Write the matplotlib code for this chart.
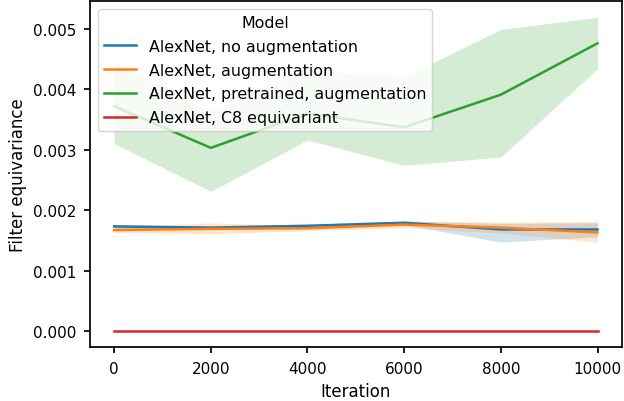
import matplotlib
matplotlib.use('Agg')
import matplotlib.pyplot as plt
import numpy as np

# Data
iterations = [0, 2000, 4000, 6000, 8000, 10000]

models = ['AlexNet, no augmentation', 'AlexNet, augmentation',
          'AlexNet, pretrained, augmentation', 'AlexNet, C8 equivariant']

mean_noaug = [0.00173, 0.00171, 0.00174, 0.00179, 0.00168, 0.00168]
low_noaug = [0.00170, 0.00168, 0.00171, 0.00176, 0.00147, 0.00156]
high_noaug = [0.00176, 0.00174, 0.00177, 0.00182, 0.00178, 0.00179]

mean_aug = [0.00167, 0.00169, 0.00170, 0.00176, 0.00171, 0.00163]
low_aug = [0.00163, 0.00161, 0.00166, 0.00171, 0.00162, 0.00147]
high_aug = [0.00171, 0.00179, 0.00174, 0.00182, 0.00180, 0.00181]

mean_pre = [0.00372, 0.00303, 0.00360, 0.00337, 0.00391, 0.00476]
low_pre = [0.00310, 0.00231, 0.00316, 0.00274, 0.00288, 0.00434]
high_pre = [0.00445, 0.00363, 0.00432, 0.00421, 0.00499, 0.00519]

mean_c8 = [0.0, 0.0, 0.0, 0.0, 0.0, 0.0]
low_c8 = [0.0, 0.0, 0.0, 0.0, 0.0, 0.0]
high_c8 = [0.0, 0.0, 0.0, 0.0, 0.0, 0.0]

means = [mean_noaug, mean_aug, mean_pre, mean_c8]
lows = [low_noaug, low_aug, low_pre, low_c8]
highs = [high_noaug, high_aug, high_pre, high_c8]
colors = ['#1f77b4', '#ff7f0e', '#2ca02c', '#d62728']

plt.rcParams.update({
    'font.size': 12,
    'axes.labelsize': 12,
    'xtick.labelsize': 11,
    'ytick.labelsize': 11,
    'legend.fontsize': 11.4,
    'legend.title_fontsize': 11.4,
    'axes.linewidth': 1.25,
    'xtick.major.width': 1.25,
    'ytick.major.width': 1.25,
    'xtick.major.size': 4,
    'ytick.major.size': 4,
    'xtick.major.pad': 6,
    'ytick.major.pad': 6,
})

fig, ax = plt.subplots(figsize=(6.24, 4.02), dpi=100)
fig.subplots_adjust(left=0.1442, right=0.9963, top=0.995, bottom=0.1336)

for name, m, lo, hi, c in zip(models, means, lows, highs, colors):
    ax.plot(iterations, m, color=c, lw=1.8, label=name)
    ax.fill_between(iterations, lo, hi, color=c, alpha=0.2, lw=0)

ax.set_xlabel('Iteration')
ax.set_ylabel('Filter equivariance')
ax.set_xticks(iterations)
ax.set_ylim(-0.00027, 0.00546)
ax.legend(title='Model', loc='upper left', labelspacing=0.55)

fig.savefig('out.png', dpi=100)
